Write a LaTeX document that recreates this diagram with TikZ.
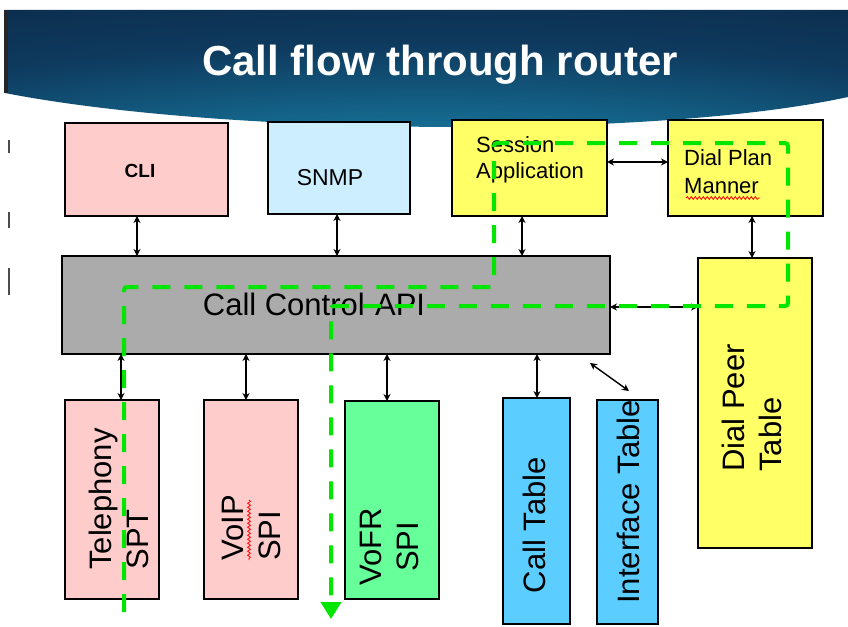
\documentclass[tikz,border=0pt]{standalone}
\usepackage{fontspec}
\setmainfont{Liberation Sans}
\usetikzlibrary{arrows.meta,decorations.pathmorphing}
\definecolor{pinkbox}{HTML}{FFCCCC}
\definecolor{snmpblue}{HTML}{CCEEFF}
\definecolor{yellowbox}{HTML}{FFFF66}
\definecolor{graybox}{HTML}{ABABAB}
\definecolor{greenbox}{HTML}{66FF99}
\definecolor{bluebox}{HTML}{5BCDFF}
\definecolor{flowgreen}{HTML}{00E600}
\definecolor{bnA}{HTML}{1E92B2}
\definecolor{bnB}{HTML}{166C92}
\definecolor{bnC}{HTML}{0E3A5E}
\definecolor{bnD}{HTML}{0A2442}
\pgfdeclareradialshading{bannershade}{\pgfpoint{0bp}{-42bp}}{color(0bp)=(bnA); color(16bp)=(bnB); color(38bp)=(bnC); color(65bp)=(bnD); color(100bp)=(bnD)}
\tikzset{
  box/.style={draw=black, line width=1.4pt, inner sep=0pt, outer sep=0pt, anchor=north west},
  biarrow/.style={{Stealth[length=7pt,width=7pt]}-{Stealth[length=7pt,width=7pt]}, line width=1.4pt, black},
  flow/.style={draw=flowgreen, line width=4pt, dash pattern=on 18pt off 14pt, rounded corners=3pt, -{Triangle[length=17pt,width=20pt]}},
  bigtext/.style={font=\fontsize{31}{37}\selectfont, inner sep=0pt},
  smalltext/.style={font=\fontsize{22}{26}\selectfont, inner sep=0pt},
  wavy/.style={draw=red, line width=0.8pt, decorate, decoration={snake, amplitude=1.4pt, segment length=4pt}},
  tick/.style={draw=black!70, line width=2pt}
}
\begin{document}
\begin{tikzpicture}[x=1pt, y=-1pt]
\useasboundingbox (0,0) rectangle (848,626);
\fill[white] (0,0) rectangle (848,626);

% banner
\shade[shading=bannershade] (5,10) -- (848,10) -- (848,97)
  .. controls (650,140) and (220,135) .. (5,93) -- cycle;
\fill[black!85] (4,10) rectangle (8,93);
\node[font=\bfseries\fontsize{42}{48}\selectfont, text=white, anchor=base, inner sep=0pt] (title) at (440,75) {Call flow through router};

% left ticks
\draw[tick] (9,140) -- (9,153);
\draw[tick] (9,212) -- (9,228);
\draw[tick] (9,268) -- (9,295);

% boxes
\node[box, fill=pinkbox, minimum width=163pt, minimum height=93pt] (cli) at (65,123) {};
\node[box, fill=snmpblue, minimum width=142pt, minimum height=92pt] (snmp) at (268,122) {};
\node[box, fill=yellowbox, minimum width=155pt, minimum height=96pt] (sess) at (452,120) {};
\node[box, fill=yellowbox, minimum width=155pt, minimum height=96pt] (dpm) at (668,120) {};
\node[box, fill=graybox, minimum width=548pt, minimum height=98pt] (ccapi) at (62,256) {};
\node[box, fill=yellowbox, minimum width=114pt, minimum height=290pt] (dpt) at (698,258) {};
\node[box, fill=pinkbox, minimum width=94pt, minimum height=199pt] (tel) at (65,400) {};
\node[box, fill=pinkbox, minimum width=94pt, minimum height=199pt] (voip) at (204,400) {};
\node[box, fill=greenbox, minimum width=94pt, minimum height=198pt] (vofr) at (345,401) {};
\node[box, fill=bluebox, minimum width=67pt, minimum height=226pt] (calltab) at (503,398) {};
\node[box, fill=bluebox, minimum width=61pt, minimum height=224pt] (iftab) at (597,400) {};

% texts
\node[font=\bfseries\fontsize{19}{22}\selectfont, anchor=base, inner sep=0pt] (clitext) at (140,177) {CLI};
\node[font=\fontsize{23}{26}\selectfont, anchor=base, inner sep=0pt] (snmptext) at (330,185) {SNMP};
\node[smalltext, align=left, anchor=west] (sesstext) at (476,160) {Session\\Application};
\node[font=\fontsize{22}{28}\selectfont, inner sep=0pt, align=left, anchor=west] (dpmtext) at (684,172) {Dial Plan\\Manner};
\node[bigtext, anchor=base] (ccapitext) at (314,315) {Call Control-API};
\node[bigtext, rotate=90, align=left] (teltext) at (119,499) {Telephony\\SPT};
\node[bigtext, rotate=90, align=left] (voiptext) at (251,528) {VoIP\\SPI};
\node[bigtext, rotate=90, align=center] (vofrtext) at (389,547) {VoFR\\SPI};
\node[bigtext, rotate=90] (calltabtext) at (534,525) {Call Table};
\node[bigtext, rotate=90] (iftabtext) at (628,502) {Interface Table};
\node[bigtext, rotate=90, align=left] (dpttext) at (752,408) {Dial Peer\\Table};

% spell-check underlines
\draw[wavy] (686,198) -- (760,198);
\draw[wavy] (249,500) -- (249,560);

% connectors
\draw[biarrow] (137,0 |- cli.south) -- (137,0 |- ccapi.north);
\draw[biarrow] (337,0 |- snmp.south) -- (337,0 |- ccapi.north);
\draw[biarrow] (522,0 |- sess.south) -- (522,0 |- ccapi.north);
\draw[biarrow] (sess.east |- 0,162) -- (dpm.west |- 0,162);
\draw[biarrow] (752,0 |- dpm.south) -- (752,0 |- dpt.north);
\draw[biarrow] (ccapi.east |- 0,307) -- (dpt.west |- 0,307);
\draw[biarrow] (121,0 |- ccapi.south) -- (121,0 |- tel.north);
\draw[biarrow] (246,0 |- ccapi.south) -- (246,0 |- voip.north);
\draw[biarrow] (387,0 |- ccapi.south) -- (387,0 |- vofr.north);
\draw[biarrow] (537,0 |- ccapi.south) -- (537,0 |- calltab.north);
\coordinate (diagA) at (590,363);
\coordinate (diagB) at (629,391);
\draw[biarrow] (diagA) -- (diagB);

% call flow
\coordinate (flowin) at (124,612);
\coordinate (flowout) at (331,619);
\draw[flow] (flowin) -- (124,287) -- (494,287) -- (494,143) -- (788,143) -- (788,306) -- (331,306) -- (flowout);
\end{tikzpicture}
\end{document}
